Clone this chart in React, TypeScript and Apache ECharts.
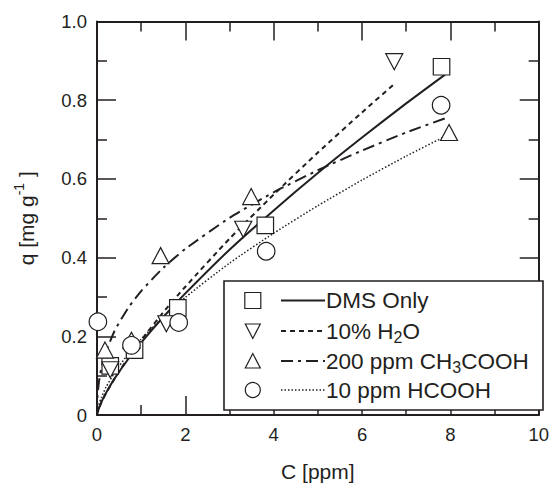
import React, { useEffect, useRef } from 'react';
import * as echarts from 'echarts';

// ---- data ----
// Measured points: C [ppm] and q [mg g-1]
const dmsX = [0.3, 0.85, 1.83, 3.81, 7.8];
const dmsQ = [0.125, 0.165, 0.272, 0.482, 0.885];
const h2oX = [0.3, 1.57, 3.31, 6.73];
const h2oQ = [0.115, 0.232, 0.472, 0.898];
const aceticX = [0.18, 0.78, 1.44, 3.49, 7.97];
const aceticQ = [0.165, 0.19, 0.405, 0.555, 0.718];
const formicX = [0.02, 0.78, 1.85, 3.83, 7.79];
const formicQ = [0.237, 0.177, 0.235, 0.416, 0.787];

// Fitted curves
const dmsFitX = [0, 0.01, 0.02, 0.05, 0.1, 0.2, 0.4, 0.7, 1, 1.5, 2, 3, 4, 5, 6, 7, 7.88];
const dmsFitQ = [0, 0.006, 0.01, 0.019, 0.033, 0.055, 0.093, 0.141, 0.184, 0.249, 0.309, 0.42, 0.52, 0.615, 0.705, 0.792, 0.865];
const h2oFitX = [0, 0.01, 0.02, 0.05, 0.1, 0.2, 0.4, 0.7, 1, 1.5, 2, 3, 4, 5, 6, 6.73];
const h2oFitQ = [0, 0.005, 0.009, 0.018, 0.032, 0.054, 0.093, 0.144, 0.19, 0.261, 0.326, 0.448, 0.56, 0.667, 0.769, 0.841];
const aceticFitX = [0, 0.005, 0.01, 0.02, 0.05, 0.1, 0.2, 0.4, 0.7, 1, 1.5, 2, 3, 4, 5, 6, 7, 7.88];
const aceticFitQ = [0, 0.034, 0.045, 0.06, 0.089, 0.119, 0.159, 0.214, 0.271, 0.315, 0.374, 0.422, 0.501, 0.566, 0.622, 0.672, 0.718, 0.754];
const formicFitX = [0, 0.01, 0.02, 0.05, 0.1, 0.2, 0.4, 0.7, 1, 1.5, 2, 3, 4, 5, 6, 7, 7.88];
const formicFitQ = [0, 0.011, 0.016, 0.029, 0.045, 0.07, 0.108, 0.154, 0.193, 0.249, 0.299, 0.386, 0.462, 0.532, 0.597, 0.658, 0.708];

const seriesNames = ['DMS Only', '10% H2O', '200 ppm CH3COOH', '10 ppm HCOOH'];
const legendLabels = [
  '{n|DMS Only}',
  '{n|10% H}{s|2}{n|O}',
  '{n|200 ppm CH}{s|3}{n|COOH}',
  '{n|10 ppm HCOOH}',
];

const xTicks = { min: 0, max: 10, interval: 2 };
const yTicks = { min: 0, max: 1, interval: 0.2 };

const INK = '#231f20';
const FONT = '"Liberation Sans", Arial, sans-serif';

const zip = (xs: number[], ys: number[]) => xs.map((x, i) => [x, ys[i]]);

const dashStyles: any[] = ['solid', [5, 4], [12, 5, 3, 5], [1.5, 2]];
const lineWidths = [2, 2, 2, 1.5];

function buildOption() {
  const axisBase = (extra: any) => ({
    type: 'value',
    splitLine: { show: false },
    minorSplitLine: { show: false },
    axisLine: { show: true, onZero: false, lineStyle: { color: INK, width: 2 } },
    axisTick: { show: true, inside: true, length: 19, lineStyle: { color: INK, width: 1.5 } },
    minorTick: { show: true, splitNumber: 2, length: 10, lineStyle: { color: INK, width: 1.5 } },
    ...extra,
  });

  const labelStyle = { color: INK, fontSize: 18.5, fontFamily: FONT, margin: 10 };

  const fits = [
    zip(dmsFitX, dmsFitQ),
    zip(h2oFitX, h2oFitQ),
    zip(aceticFitX, aceticFitQ),
    zip(formicFitX, formicFitQ),
  ];
  const pts = [
    zip(dmsX, dmsQ),
    zip(h2oX, h2oQ),
    zip(aceticX, aceticQ),
    zip(formicX, formicQ),
  ];
  const symbols = ['rect', 'triangle', 'triangle', 'circle'];
  const rotations = [0, 180, 0, 0];
  const sizes: any[] = [16.5, [17, 16], [17, 16], 17.5];

  const lineSeries = fits.map((d, i) => ({
    type: 'line',
    name: seriesNames[i] + ' fit',
    data: d,
    showSymbol: false,
    symbol: 'none',
    smooth: 0.2,
    z: 2,
    silent: true,
    lineStyle: { color: INK, width: lineWidths[i], type: dashStyles[i] },
  }));

  const scatterSeries = pts.map((d, i) => ({
    type: 'scatter',
    name: seriesNames[i],
    data: d,
    symbol: symbols[i],
    symbolRotate: rotations[i],
    symbolSize: sizes[i],
    z: 3,
    silent: true,
    itemStyle: { color: '#ffffff', borderColor: INK, borderWidth: 1.2, opacity: 1 },
  }));

  // legend (drawn with graphic elements)
  const boxL = 224, boxT = 281, boxW = 319, boxH = 129;
  const rowsY = [300.5, 331, 361, 390];
  const mx = 252.8;
  const lineX1 = 281, lineX2 = 325, textX = 326;
  const legendEls: any[] = [
    {
      type: 'rect',
      shape: { x: boxL, y: boxT, width: boxW, height: boxH },
      style: { fill: '#ffffff', stroke: INK, lineWidth: 1.6 },
      z: 10,
    },
  ];
  const mStyle = { fill: '#ffffff', stroke: INK, lineWidth: 1.2 };
  legendEls.push({
    type: 'rect',
    shape: { x: mx - 8, y: rowsY[0] - 8, width: 16, height: 16 },
    style: mStyle,
    z: 11,
  });
  legendEls.push({
    type: 'polygon',
    shape: { points: [[mx - 7.5, rowsY[1] - 7], [mx + 7.5, rowsY[1] - 7], [mx, rowsY[1] + 7.5]] },
    style: mStyle,
    z: 11,
  });
  legendEls.push({
    type: 'polygon',
    shape: { points: [[mx - 7.5, rowsY[2] + 7], [mx + 7.5, rowsY[2] + 7], [mx, rowsY[2] - 7.5]] },
    style: mStyle,
    z: 11,
  });
  legendEls.push({
    type: 'circle',
    shape: { cx: mx, cy: rowsY[3], r: 7.5 },
    style: mStyle,
    z: 11,
  });
  rowsY.forEach((ry, i) => {
    legendEls.push({
      type: 'line',
      shape: { x1: lineX1, y1: ry, x2: lineX2, y2: ry },
      style: { stroke: INK, lineWidth: lineWidths[i], lineDash: dashStyles[i] === 'solid' ? null : dashStyles[i] },
      z: 11,
    });
    legendEls.push({
      type: 'text',
      x: textX,
      y: ry,
      z: 11,
      style: {
        text: legendLabels[i],
        fill: INK,
        fontFamily: FONT,
        fontSize: 22.5,
        verticalAlign: 'middle',
        align: 'left',
        rich: {
          n: { fontSize: 22.5, fontFamily: FONT, fill: INK, height: 26, lineHeight: 26 },
          s: { fontSize: 16, fontFamily: FONT, fill: INK, height: 14, lineHeight: 26, verticalAlign: 'bottom' },
        },
      },
    });
  });

  return {
    animation: false,
    backgroundColor: '#ffffff',
    grid: { left: 97, right: 5, top: 21.5, bottom: 65.5, containLabel: false },
    xAxis: [
      axisBase({
        ...xTicks,
        position: 'bottom',
        name: 'C [ppm]',
        nameLocation: 'middle',
        nameGap: 46,
        nameTextStyle: { color: INK, fontSize: 21, fontFamily: FONT },
        axisLabel: { ...labelStyle, formatter: (v: number) => String(v) },
      }),
      axisBase({ ...xTicks, position: 'top', axisLabel: { show: false } }),
    ],
    yAxis: [
      axisBase({
        ...yTicks,
        position: 'left',
        name: '{a|q [mg g}{sup|-1}{a| ]}',
        nameLocation: 'middle',
        nameGap: 58,
        nameTextStyle: {
          color: INK,
          fontSize: 21,
          fontFamily: FONT,
          rich: {
            a: { fontSize: 21, fontFamily: FONT, color: INK, height: 26, lineHeight: 26 },
            sup: { fontSize: 14, fontFamily: FONT, color: INK, height: 12, lineHeight: 26, verticalAlign: 'top' },
          },
        },
        axisLabel: { ...labelStyle, formatter: (v: number) => (v === 0 ? '0' : v.toFixed(1)) },
      }),
      axisBase({ ...yTicks, position: 'right', axisLabel: { show: false } }),
    ],
    series: [...lineSeries, ...scatterSeries],
    graphic: { elements: legendEls },
  };
}

export default function App() {
  const ref = useRef<HTMLDivElement>(null);
  useEffect(() => {
    if (!ref.current) return;
    const chart = echarts.init(ref.current, null, { renderer: 'svg' });
    chart.setOption(buildOption() as any);
    return () => chart.dispose();
  }, []);
  return (
    <div
      ref={ref}
      style={{ position: 'absolute', left: 0, top: 0, width: 552, height: 487, background: '#fff' }}
    />
  );
}
